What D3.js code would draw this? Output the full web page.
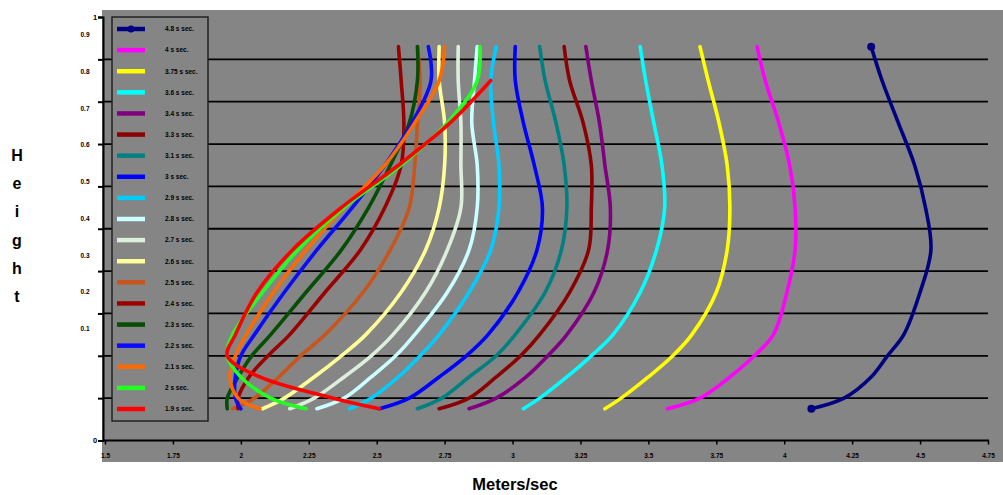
<!DOCTYPE html>
<html lang="en">

<head>
    <meta charset="UTF-8">
    <title>Velocity Profiles</title>
    <script src="https://d3js.org/d3.v7.min.js"></script>
    <style>
        body {
            margin: 0;
            background: #ffffff;
            font-family: "Liberation Sans", Arial, sans-serif;
        }
    </style>
</head>

<body>
    <div id="chart"></div>

    <script>
        const width = 1003;
        const height = 495;

        // heights (fraction of depth) where speeds were read
        const heights = [0.93, 0.85, 0.75, 0.65, 0.55, 0.45, 0.35, 0.25, 0.2, 0.15, 0.1, 0.075];

        const seriesNames = ["4.8 s sec.", "4 s sec.", "3.75 s sec.", "3.6 s sec.", "3.4 s sec.", "3.3 s sec.",
            "3.1 s sec.", "3 s sec.", "2.9 s sec.", "2.8 s sec.", "2.7 s sec.", "2.6 s sec.", "2.5 s sec.",
            "2.4 s sec.", "2.3 s sec.", "2.2 s sec.", "2.1 s sec.", "2 s sec.", "1.9 s sec."];

        const s48 = [4.32, 4.36, 4.42, 4.48, 4.52, 4.54, 4.50, 4.44, 4.38, 4.32, 4.22, 4.10];
        const s40 = [3.90, 3.93, 3.98, 4.02, 4.04, 4.04, 4.01, 3.96, 3.89, 3.80, 3.69, 3.57];
        const s375 = [3.69, 3.72, 3.76, 3.79, 3.80, 3.79, 3.75, 3.66, 3.59, 3.50, 3.40, 3.34];
        const s36 = [3.47, 3.49, 3.52, 3.55, 3.56, 3.53, 3.47, 3.37, 3.29, 3.20, 3.10, 3.04];
        const s34 = [3.27, 3.29, 3.32, 3.34, 3.36, 3.35, 3.30, 3.20, 3.13, 3.05, 2.94, 2.84];
        const s33 = [3.19, 3.21, 3.26, 3.29, 3.29, 3.28, 3.21, 3.10, 3.03, 2.94, 2.84, 2.73];
        const s31 = [3.10, 3.12, 3.16, 3.19, 3.20, 3.18, 3.12, 3.01, 2.94, 2.84, 2.74, 2.65];
        const s30 = [3.01, 3.01, 3.04, 3.08, 3.11, 3.09, 3.02, 2.91, 2.83, 2.73, 2.62, 2.51];
        const s29 = [2.94, 2.92, 2.93, 2.95, 2.95, 2.92, 2.84, 2.73, 2.66, 2.58, 2.48, 2.40];
        const s28 = [2.87, 2.86, 2.85, 2.87, 2.87, 2.84, 2.76, 2.64, 2.57, 2.48, 2.38, 2.28];
        const s27 = [2.80, 2.80, 2.81, 2.81, 2.81, 2.76, 2.68, 2.56, 2.48, 2.38, 2.27, 2.18];
        const s26 = [2.73, 2.73, 2.75, 2.75, 2.73, 2.68, 2.59, 2.46, 2.37, 2.27, 2.16, 2.08];
        const s25 = [2.65, 2.66, 2.65, 2.64, 2.62, 2.55, 2.45, 2.31, 2.22, 2.14, 2.05, 1.97];
        const s24 = [2.58, 2.59, 2.60, 2.59, 2.53, 2.44, 2.31, 2.18, 2.10, 2.03, 1.99, 1.99];
        const s23 = [2.65, 2.65, 2.62, 2.55, 2.47, 2.37, 2.24, 2.11, 2.04, 1.99, 1.95, 1.95];
        const s22 = [2.69, 2.70, 2.63, 2.53, 2.41, 2.28, 2.16, 2.05, 2.00, 1.98, 1.98, 2.00];
        const s21 = [2.75, 2.73, 2.64, 2.53, 2.38, 2.24, 2.12, 2.02, 1.98, 1.96, 1.99, 2.07];
        const s20 = [2.88, 2.87, 2.76, 2.59, 2.38, 2.21, 2.08, 1.97, 1.95, 2.00, 2.11, 2.24];
        const s19 = [null, 2.92, 2.77, 2.58, 2.37, 2.19, 2.06, 1.98, 1.95, 2.07, 2.34, 2.51];

        const speeds = [s48, s40, s375, s36, s34, s33, s31, s30, s29, s28, s27, s26, s25, s24, s23, s22, s21, s20, s19];

        const colors = ["#000080", "#ff00ff", "#ffff00", "#00ffff", "#800080", "#8b0000", "#008080", "#0000ff",
            "#00ccff", "#ccffff", "#dcefdc", "#ffff99", "#c8561c", "#9a0000", "#064d06", "#0a0aff", "#ff6a00",
            "#22ff22", "#ff0000"];

        const xTicks = [1.5, 1.75, 2, 2.25, 2.5, 2.75, 3, 3.25, 3.5, 3.75, 4, 4.25, 4.5, 4.75];
        const yTicks = [0, 0.1, 0.2, 0.3, 0.4, 0.5, 0.6, 0.7, 0.8, 0.9, 1];
        const yLabels = [0.1, 0.2, 0.3, 0.4, 0.5, 0.6, 0.7, 0.8, 0.9];

        const svg = d3.select("#chart")
            .append("svg")
            .attr("width", width)
            .attr("height", height);

        // gray chart area
        svg.append("rect")
            .attr("x", 102)
            .attr("y", 10)
            .attr("width", width - 102)
            .attr("height", 452)
            .attr("fill", "#858585");

        const xScale = d3.scaleLinear().domain([1.5, 4.75]).range([105, 988]);
        const yScale = d3.scaleLinear().domain([0, 1]).range([440.5, 17]);
        // tick labels on the y axis are squeezed in the original picture
        const yLabelScale = d3.scaleLinear().domain([0.1, 0.9]).range([329, 35]);

        // gridlines
        svg.append("g")
            .selectAll("line")
            .data(yTicks.filter(d => d > 0 && d < 1))
            .join("line")
            .attr("x1", 103)
            .attr("x2", 988)
            .attr("y1", d => yScale(d))
            .attr("y2", d => yScale(d))
            .attr("stroke", "#000")
            .attr("stroke-width", 1.8);

        // x axis
        const xAxis = svg.append("g")
            .attr("transform", `translate(0,${yScale(0)})`)
            .call(d3.axisBottom(xScale).tickValues(xTicks).tickSize(4).tickFormat(d3.format("")));
        xAxis.select(".domain").attr("stroke", "#000").attr("stroke-width", 2).attr("d", "M103,0H989");
        xAxis.selectAll(".tick line").attr("stroke", "#000").attr("stroke-width", 1.5);
        xAxis.selectAll(".tick text")
            .attr("y", 13)
            .attr("font-size", 6.5)
            .attr("font-weight", "bold")
            .attr("font-family", "Liberation Sans, Arial, sans-serif")
            .attr("fill", "#000");

        // y axis: ticks only
        const yAxis = svg.append("g")
            .attr("transform", "translate(103,0)")
            .call(d3.axisLeft(yScale).tickValues(yTicks).tickSize(5).tickFormat(""));
        yAxis.select(".domain").attr("stroke", "#000").attr("stroke-width", 2);
        yAxis.selectAll(".tick line").attr("stroke", "#000").attr("stroke-width", 2);

        // y labels
        svg.append("g")
            .selectAll("text")
            .data(yLabels)
            .join("text")
            .attr("x", 85)
            .attr("y", d => yLabelScale(d) + 2)
            .attr("text-anchor", "middle")
            .attr("font-size", 6.5)
            .attr("font-weight", "bold")
            .text(d => d);

        svg.append("g")
            .selectAll("text")
            .data([0, 1])
            .join("text")
            .attr("x", 95)
            .attr("y", d => yScale(d) + 2.5)
            .attr("text-anchor", "middle")
            .attr("font-size", 7.5)
            .attr("font-weight", "bold")
            .text(d => d);

        // lines
        const line = d3.line()
            .defined(d => d.v !== null)
            .x(d => xScale(d.v))
            .y(d => yScale(d.h))
            .curve(d3.curveCatmullRom.alpha(0.5));

        const series = speeds.map((vals, i) => ({
            name: seriesNames[i],
            color: colors[i],
            points: vals.map((v, j) => ({ v: v, h: heights[j] }))
        }));

        // slowest drawn last so red sits on top, like the original
        svg.append("g")
            .selectAll("path")
            .data(series)
            .join("path")
            .attr("d", d => line(d.points))
            .attr("fill", "none")
            .attr("stroke", d => d.color)
            .attr("stroke-width", 3.6)
            .attr("stroke-linecap", "round");

        // end markers on the first series
        const first = series[0].points;
        svg.append("g")
            .selectAll("circle")
            .data([first[0], first[first.length - 1]])
            .join("circle")
            .attr("cx", d => xScale(d.v))
            .attr("cy", d => yScale(d.h))
            .attr("r", 4)
            .attr("fill", colors[0]);

        // legend
        const legend = svg.append("g");
        legend.append("rect")
            .attr("x", 112)
            .attr("y", 17)
            .attr("width", 96)
            .attr("height", 404)
            .attr("fill", "#858585")
            .attr("stroke", "#222")
            .attr("stroke-width", 1.5);

        const legendY = d3.scaleLinear().domain([0, series.length - 1]).range([29, 409]);

        const items = legend.selectAll("g.item")
            .data(series)
            .join("g")
            .attr("class", "item")
            .attr("transform", (d, i) => `translate(0,${legendY(i)})`);

        items.append("line")
            .attr("x1", 117)
            .attr("x2", 145)
            .attr("stroke", d => d.color)
            .attr("stroke-width", 4.5);

        items.filter((d, i) => i === 0)
            .append("circle")
            .attr("cx", 131)
            .attr("r", 3.5)
            .attr("fill", colors[0]);

        items.append("text")
            .attr("x", 165)
            .attr("y", 2.3)
            .attr("font-size", 6.5)
            .attr("font-weight", "bold")
            .attr("fill", "#000")
            .text(d => d.name);

        // axis titles
        svg.append("g")
            .selectAll("text")
            .data("Height".split(""))
            .join("text")
            .attr("x", 17)
            .attr("y", (d, i) => 161 + i * 28.2)
            .attr("text-anchor", "middle")
            .attr("font-size", 16)
            .attr("font-weight", "bold")
            .text(d => d);

        svg.append("text")
            .attr("x", 515)
            .attr("y", 490)
            .attr("text-anchor", "middle")
            .attr("font-size", 16.5)
            .attr("font-weight", "bold")
            .text("Meters/sec");
    </script>
</body>

</html>
